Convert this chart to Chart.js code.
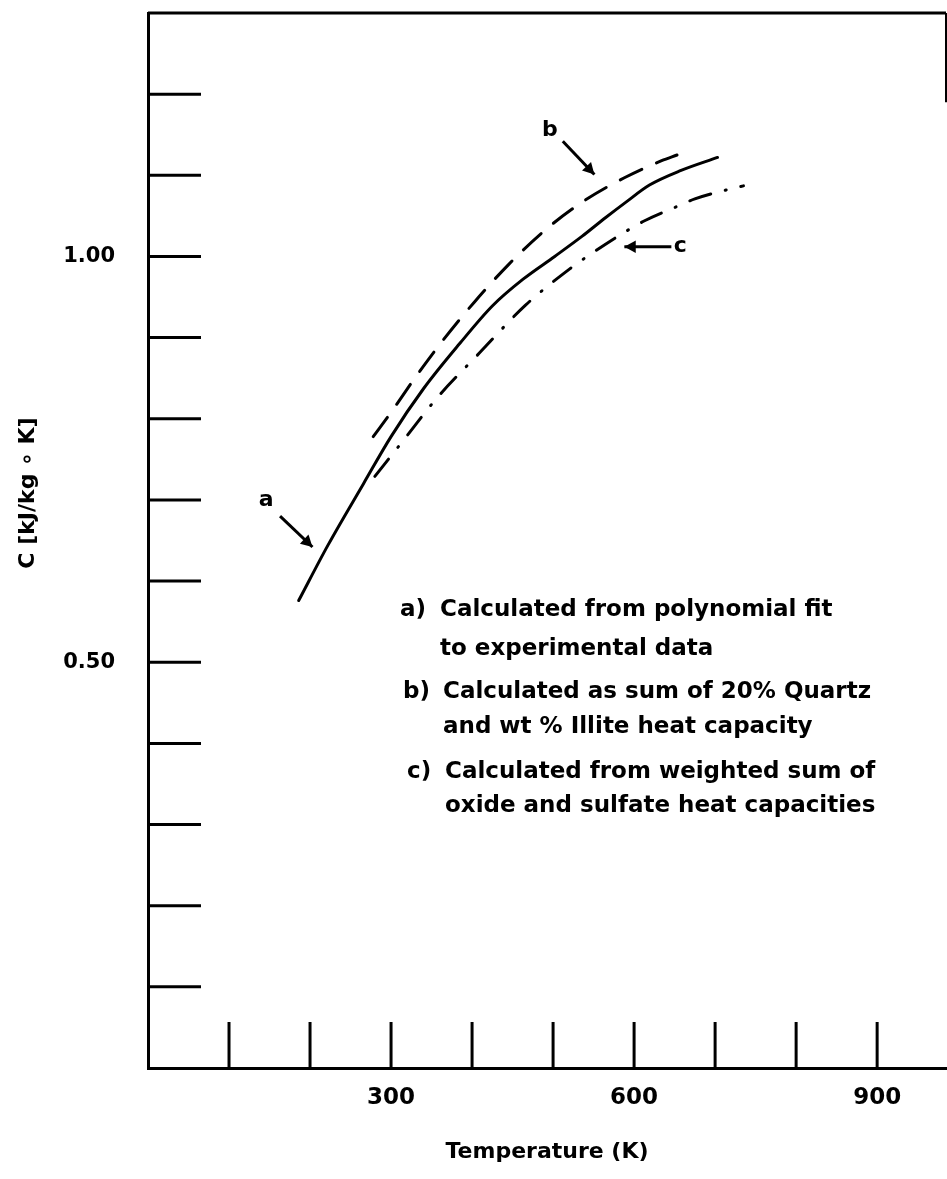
<!DOCTYPE html>
<html lang="en">
<head>
    <meta charset="UTF-8">
    <title>Heat capacity vs temperature</title>
    <script src="https://cdn.jsdelivr.net/npm/chart.js"></script>
    <style>
        body { margin: 0; background: #fff; }
        #chart { display: block; }
    </style>
</head>
<body>
    <canvas id="chart" width="947" height="1179"></canvas>

    <script>
        // curve a) polynomial fit to experimental data
        const aTemp = [186, 222, 266, 300, 340, 385, 425, 463, 502, 536, 565, 590, 619, 658, 703];
        const aHeat = [0.576, 0.644, 0.720, 0.778, 0.837, 0.893, 0.939, 0.972, 1.000, 1.025, 1.048, 1.067, 1.088, 1.106, 1.122];

        // curve b) 20% quartz + illite
        const bTemp = [278, 300, 330, 362, 403, 445, 492, 539, 588, 634, 653];
        const bHeat = [0.778, 0.808, 0.851, 0.894, 0.944, 0.990, 1.034, 1.069, 1.097, 1.118, 1.125];

        // curve c) weighted sum of oxides and sulfates
        const cTemp = [280, 311, 357, 409, 466, 521, 548, 590, 613, 654, 675, 722, 735];
        const cHeat = [0.729, 0.768, 0.826, 0.881, 0.940, 0.985, 1.004, 1.031, 1.044, 1.062, 1.071, 1.084, 1.087];

        // axis ticks that carry a label
        const xLabels = [300, 600, 900];
        const yLabels = [0.5, 1.0];

        const legendLines = [
            ['a)', 'Calculated from polynomial fit', 'to experimental data'],
            ['b)', 'Calculated as sum of 20% Quartz', 'and wt % Illite heat capacity'],
            ['c)', 'Calculated from weighted sum of', 'oxide and sulfate heat capacities']
        ];

        const FONT = '"DejaVu Sans", sans-serif';

        function toPoints(xs, ys) {
            return xs.map((x, i) => ({ x: x, y: ys[i] }));
        }

        function arrow(ctx, x1, y1, x2, y2) {
            const ang = Math.atan2(y2 - y1, x2 - x1);
            ctx.beginPath();
            ctx.moveTo(x1, y1);
            ctx.lineTo(x2, y2);
            ctx.stroke();
            ctx.beginPath();
            ctx.moveTo(x2, y2);
            ctx.lineTo(x2 - 13 * Math.cos(ang - 0.5), y2 - 13 * Math.sin(ang - 0.5));
            ctx.lineTo(x2 - 13 * Math.cos(ang + 0.5), y2 - 13 * Math.sin(ang + 0.5));
            ctx.closePath();
            ctx.fill();
        }

        // inward tick marks, top frame, curve labels and the text block
        const decorations = {
            id: 'decorations',
            afterDraw(chart) {
                const { ctx, chartArea: a, scales: { x, y } } = chart;
                ctx.save();
                ctx.strokeStyle = '#000';
                ctx.fillStyle = '#000';
                ctx.lineWidth = 3;

                y.ticks.forEach(t => {
                    const v = Math.round(t.value * 10);
                    if (v <= 0 || v > 12) return;
                    const py = y.getPixelForValue(v / 10);
                    ctx.beginPath();
                    ctx.moveTo(a.left, py);
                    ctx.lineTo(a.left + 53, py);
                    ctx.stroke();
                });
                x.ticks.forEach(t => {
                    if (t.value <= 0 || t.value % 100 !== 0) return;
                    const px = x.getPixelForValue(t.value);
                    ctx.beginPath();
                    ctx.moveTo(px, a.bottom);
                    ctx.lineTo(px, a.bottom - 46);
                    ctx.stroke();
                });

                // frame top and the short piece of the right edge
                ctx.beginPath();
                ctx.moveTo(a.left, a.top);
                ctx.lineTo(a.right, a.top);
                ctx.stroke();
                ctx.lineWidth = 2;
                ctx.beginPath();
                ctx.moveTo(a.right, a.top);
                ctx.lineTo(a.right, y.getPixelForValue(1.19));
                ctx.stroke();

                // curve labels with arrows
                ctx.lineWidth = 3;
                ctx.font = 'bold 22px ' + FONT;
                ctx.textAlign = 'center';
                ctx.textBaseline = 'middle';
                ctx.fillText('a', x.getPixelForValue(146), y.getPixelForValue(0.699));
                arrow(ctx, x.getPixelForValue(163), y.getPixelForValue(0.680), x.getPixelForValue(203), y.getPixelForValue(0.642));
                ctx.fillText('b', x.getPixelForValue(496), y.getPixelForValue(1.156));
                arrow(ctx, x.getPixelForValue(512), y.getPixelForValue(1.142), x.getPixelForValue(551), y.getPixelForValue(1.101));
                ctx.fillText('c', x.getPixelForValue(657), y.getPixelForValue(1.013));
                arrow(ctx, x.getPixelForValue(646), y.getPixelForValue(1.012), x.getPixelForValue(588), y.getPixelForValue(1.012));

                // explanation block
                ctx.textAlign = 'left';
                ctx.font = 'bold 23px ' + FONT;
                const rows = [[610, 649], [692, 727], [772, 806]];
                const keyX = [400, 403, 407];
                const textX = [440, 443, 445];
                legendLines.forEach((ln, i) => {
                    ctx.fillText(ln[0], keyX[i], rows[i][0]);
                    ctx.fillText(ln[1], textX[i], rows[i][0]);
                    ctx.fillText(ln[2], textX[i], rows[i][1]);
                });

                // y axis title
                ctx.translate(28, 493);
                ctx.rotate(-Math.PI / 2);
                ctx.textAlign = 'center';
                ctx.font = 'bold 22px ' + FONT;
                ctx.fillText('C [kJ/kg \u2218 K]', 0, 0);
                ctx.restore();
            }
        };

        const line = {
            showLine: true,
            pointRadius: 0,
            borderColor: '#000',
            borderWidth: 3,
            cubicInterpolationMode: 'monotone',
            borderCapStyle: 'round'
        };

        new Chart(document.getElementById('chart').getContext('2d'), {
            type: 'scatter',
            data: {
                datasets: [
                    Object.assign({ label: 'a', data: toPoints(aTemp, aHeat) }, line),
                    Object.assign({ label: 'b', data: toPoints(bTemp, bHeat), borderDash: [24, 16] }, line),
                    Object.assign({ label: 'c', data: toPoints(cTemp, cHeat), borderDash: [22, 15, 1, 15] }, line)
                ]
            },
            options: {
                responsive: false,
                animation: false,
                layout: { padding: { top: 13, right: 1, left: 0, bottom: 0 } },
                plugins: { legend: { display: false }, tooltip: { enabled: false } },
                scales: {
                    x: {
                        type: 'linear',
                        min: 0,
                        max: 985,
                        afterFit: s => {
                            s.height = 111;
                            s.paddingLeft = 0;
                            s.paddingRight = 0;
                        },
                        grid: { display: false, drawTicks: false },
                        border: { display: true, color: '#000', width: 3 },
                        ticks: {
                            stepSize: 100,
                            autoSkip: false,
                            maxRotation: 0,
                            padding: 16,
                            color: '#000',
                            font: { family: FONT, size: 23, weight: 'bold' },
                            callback: v => xLabels.includes(v) ? String(v) : ''
                        },
                        title: {
                            display: true,
                            text: 'Temperature (K)',
                            color: '#000',
                            font: { family: FONT, size: 22, weight: 'bold' },
                            padding: { top: 0, bottom: 14 }
                        }
                    },
                    y: {
                        type: 'linear',
                        min: 0,
                        max: 1.30,
                        afterFit: s => {
                            s.width = 148;
                            s.paddingTop = 0;
                            s.paddingBottom = 0;
                        },
                        grid: { display: false, drawTicks: false },
                        border: { display: true, color: '#000', width: 3 },
                        ticks: {
                            stepSize: 0.1,
                            autoSkip: false,
                            padding: 33,
                            color: '#000',
                            font: { family: FONT, size: 21, weight: 'bold' },
                            callback: v => yLabels.some(l => Math.abs(l - v) < 1e-6) ? v.toFixed(2) : ''
                        }
                    }
                }
            },
            plugins: [decorations]
        });
    </script>
</body>
</html>
